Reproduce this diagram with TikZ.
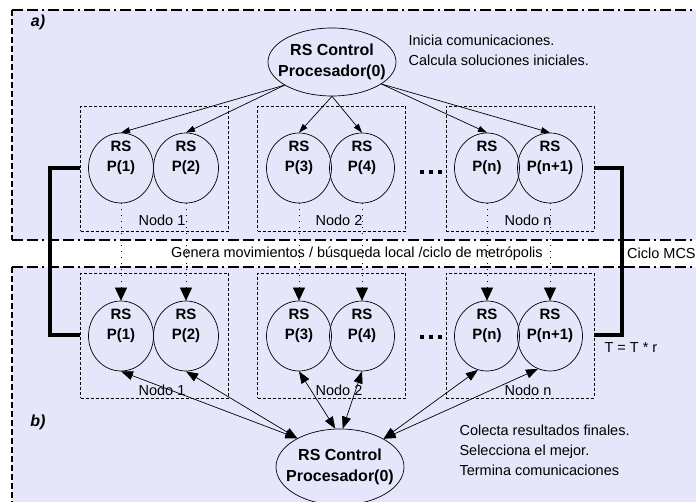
\documentclass[tikz,border=0pt]{standalone}
\usepackage{fontspec}
\setmainfont{Liberation Sans}
\usetikzlibrary{shapes.geometric,arrows.meta}
\definecolor{lavanda}{RGB}{230,230,250}
\tikzset{
  control/.style={ellipse, draw, line width=0.7pt, minimum width=128pt, minimum height=68pt, inner sep=0pt},
  proc/.style={ellipse, draw, line width=0.7pt, minimum width=65pt, minimum height=70pt, inner sep=0pt},
  ctxt/.style={align=center, font=\fontsize{16}{21}\selectfont\bfseries},
  ptxt/.style={align=center, font=\fontsize{15}{20}\selectfont\bfseries, yshift=10pt},
  nodo/.style={draw, dash pattern=on 3pt off 2pt, line width=0.7pt, minimum width=148pt, minimum height=125pt, inner sep=0pt},
  borde/.style={line width=1.2pt, dash pattern=on 11pt off 4pt on 11pt off 4pt on 2pt off 4pt},
  lado/.style={line width=1.2pt, dash pattern=on 6pt off 3pt},
  envio/.style={line width=0.7pt, -{Triangle[length=9pt,width=6pt]}},
  genera/.style={line width=0.7pt, dash pattern=on 1pt off 5pt, -{Triangle[length=13pt,width=12pt]}},
  colecta/.style={line width=0.7pt, {Triangle[length=12pt,width=9pt]}-{Triangle[length=12pt,width=9pt]}},
  grueso/.style={line width=4pt},
  etiq/.style={font=\fontsize{16}{18}\selectfont\bfseries\itshape}
}
\begin{document}
\begin{tikzpicture}[x=1pt, y=-1pt, font=\fontsize{14.5}{20}\selectfont]
\useasboundingbox (0,0) rectangle (696,502);
\fill[white] (0,0) rectangle (696,502);
\fill[lavanda] (12,10) rectangle (696,240);
\fill[lavanda] (12,267) rectangle (696,502);
\draw[borde] (12,10) -- (696,10);
\draw[borde] (12,240) -- (696,240);
\draw[borde] (12,267) -- (696,267);
\draw[lado] (12,10) -- (12,240);
\draw[lado] (12,267) -- (12,502);

\node[etiq] (a) at (38,22) {a)};
\node[etiq] (b) at (38,422) {b)};

\node[nodo] (n1a) at (154.5,168.5) {};
\node[nodo] (n2a) at (331.5,168.5) {};
\node[nodo] (nna) at (520,168.5) {};
\node[nodo] (n1b) at (154.5,335.5) {};
\node[nodo] (n2b) at (331.5,335.5) {};
\node[nodo] (nnb) at (520,335.5) {};
\node (l1a) at (162,220) {Nodo 1};
\node (l2a) at (339,220) {Nodo 2};
\node (lna) at (528,220) {Nodo n};
\node (l1b) at (162,390) {Nodo 1};
\node (l2b) at (339,390) {Nodo 2};
\node (lnb) at (528,390) {Nodo n};

\node[control] (c0a) at (332,62) {};
\node[ctxt] (t0a) at (c0a) {RS Control\\Procesador(0)};
\node[control, minimum height=76pt] (c0b) at (340,467) {};
\node[ctxt] (t0b) at (c0b) {RS Control\\Procesador(0)};

\node[proc] (p1a) at (121,168) {};
\node[proc] (p2a) at (186,168) {};
\node[proc] (p3a) at (299,168) {};
\node[proc] (p4a) at (362,168) {};
\node[proc] (pna) at (487,168) {};
\node[proc] (pn1a) at (550,168) {};
\node[ptxt] (t1a) at (p1a) {RS\\P(1)};
\node[ptxt] (t2a) at (p2a) {RS\\P(2)};
\node[ptxt] (t3a) at (p3a) {RS\\P(3)};
\node[ptxt] (t4a) at (p4a) {RS\\P(4)};
\node[ptxt] (tna) at (pna) {RS\\P(n)};
\node[ptxt] (tn1a) at (pn1a) {RS\\P(n+1)};

\node[proc] (p1b) at (121,336) {};
\node[proc] (p2b) at (186,336) {};
\node[proc] (p3b) at (299,336) {};
\node[proc] (p4b) at (362,336) {};
\node[proc] (pnb) at (487,336) {};
\node[proc] (pn1b) at (550,336) {};
\node[ptxt] (t1b) at (p1b) {RS\\P(1)};
\node[ptxt] (t2b) at (p2b) {RS\\P(2)};
\node[ptxt] (t3b) at (p3b) {RS\\P(3)};
\node[ptxt] (t4b) at (p4b) {RS\\P(4)};
\node[ptxt] (tnb) at (pnb) {RS\\P(n)};
\node[ptxt] (tn1b) at (pn1b) {RS\\P(n+1)};

\foreach \y in {172,337}
  \foreach \x in {422,431,440}
    \fill (\x-2,\y-2) rectangle ++(4,4);

\draw[envio] (c0a.206) -- (p1a.north);
\draw[envio] (c0a.206) -- (p2a.north);
\draw[envio] (c0a.south) -- (p3a.north);
\draw[envio] (c0a.south) -- (p4a.north);
\draw[envio] (c0a.336) -- (pna.north);
\draw[envio] (c0a.336) -- (pn1a.north);

\draw[genera] (p1a.south) -- (p1b.north);
\draw[genera] (p2a.south) -- (p2b.north);
\draw[genera] (p3a.south) -- (p3b.north);
\draw[genera] (p4a.south) -- (p4b.north);
\draw[genera] (pna.south) -- (pnb.north);
\draw[genera] (pn1a.south) -- (pn1b.north);

\draw[colecta] (p1b.south) -- (c0b.146);
\draw[colecta] (p2b.south) -- (c0b.146);
\draw[colecta] (p3b.south) -- (c0b.97);
\draw[colecta] (p4b.south) -- (c0b.86);
\draw[colecta] (pnb.255) -- (c0b.33);
\draw[colecta] (pn1b.250) -- (c0b.33);

\draw[grueso] (n1a.west) -- ++(-30,0) |- (n1b.west);
\draw[grueso] (nna.east) -- ++(28,0) |- (nnb.east);

\node[anchor=west, align=left] (inicia) at (405,50) {Inicia comunicaciones.\\Calcula soluciones iniciales.};
\node (movs) at (357,254) {Genera movimientos / búsqueda local /ciclo de metrópolis};
\node[anchor=west, inner sep=1pt] (ciclo) at (626,253) {Ciclo MCS};
\node[anchor=west] (temp) at (601,348) {T = T * r};
\node[anchor=west, align=left] (final) at (456,450) {Colecta resultados finales.\\Selecciona el mejor.\\Termina comunicaciones};
\end{tikzpicture}
\end{document}
